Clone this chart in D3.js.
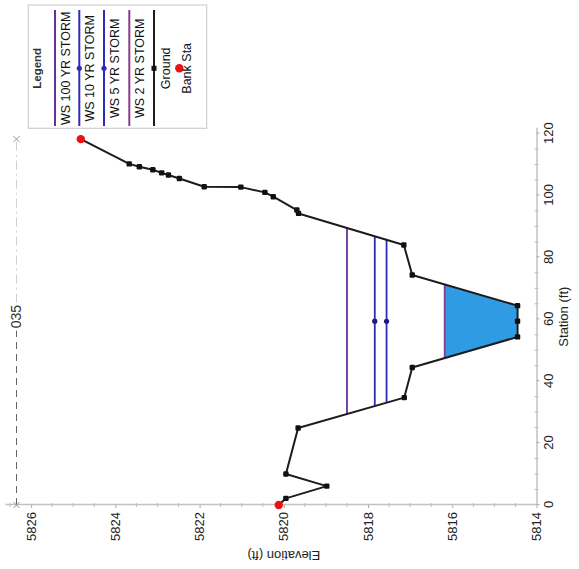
<!DOCTYPE html>
<html><head><meta charset="utf-8">
<script src="https://cdn.jsdelivr.net/npm/d3@7"></script>
<style>html,body{margin:0;padding:0;background:#fff;} svg{display:block;}</style>
</head><body><div id="chart"></div>
<script>
// ---------- data ----------
const groundStation = [0, 2.15, 6.1, 10.0, 24.9, 34.7, 44.4, 54.3, 59.4, 64.4, 74.3, 84.0, 94.2, 95.3, 99.6, 101.0, 102.7, 102.8, 105.5, 106.6, 107.3, 108.3, 109.3, 110.2, 118.2];
const groundElevation = [5820.12, 5819.95, 5818.98, 5819.95, 5819.66, 5817.14, 5816.95, 5814.45, 5814.45, 5814.45, 5816.95, 5817.15, 5819.65, 5819.69, 5820.25, 5820.45, 5821.02, 5821.89, 5822.48, 5822.74, 5822.90, 5823.11, 5823.43, 5823.67, 5824.82];
const bankStations = [0, 118.2];
const profileNames = ["WS 100 YR STORM", "WS 10 YR STORM", "WS 5 YR STORM", "WS 2 YR STORM"];
const profileElevations = [5818.50, 5817.84, 5817.56, 5816.18];
const profileHasMarker = [false, true, true, false];
const profileColors = ["#62309e", "#2c2cb8", "#2c2cb8", "#8c3a8c"];
const stationTicks = [0, 20, 40, 60, 80, 100, 120];
const elevationTicks = [5814, 5816, 5818, 5820, 5822, 5824, 5826];
const sectionName = "035";
const legendTitle = "Legend";
const groundLabel = "Ground";
const bankLabel = "Bank Sta";
const stationTitle = "Station (ft)";
const elevationTitle = "Elevation (ft)";

// ---------- setup ----------
const W = 579, H = 569;
const FONT = "'Liberation Sans', Arial, sans-serif";
const svg = d3.select("#chart").append("svg").attr("width", W).attr("height", H)
  .style("font-family", FONT);
// the chart is drawn in normal orientation then rotated 90deg counter-clockwise
const g = svg.append("g").attr("transform", `translate(0,${H}) rotate(-90)`);

const x = d3.scaleLinear().domain([0, 121.7]).range([64, 440.7]);
const y = d3.scaleLinear().domain([5814, 5826.62]).range([536.5, 5]);

const ground = groundStation.map((s, i) => ({s, e: groundElevation[i]}));

function wetted(level) {
  const iMin = d3.minIndex(ground, d => d.e);
  let i = iMin;
  while (i > 0 && ground[i - 1].e < level) i--;
  const a = ground[i - 1], b = ground[i];
  const sL = a.s + (level - a.e) / (b.e - a.e) * (b.s - a.s);
  let j = iMin;
  while (j < ground.length - 1 && ground[j + 1].e < level) j++;
  const c = ground[j], d = ground[j + 1];
  const sR = c.s + (level - c.e) / (d.e - c.e) * (d.s - c.s);
  return {sL, sR, inner: ground.slice(i, j + 1)};
}

// ---------- axes ----------
const axisColor = "#c2c2c2";
const xAxis = d3.axisBottom(x).tickValues(stationTicks).tickFormat(d3.format("d"))
  .tickSize(3).tickSizeOuter(0).tickPadding(4);
const gx = g.append("g").attr("transform", `translate(0,${y(5814)})`).call(xAxis);
gx.attr("font-family", FONT).attr("font-size", 13);
gx.select(".domain").attr("stroke", axisColor).attr("stroke-width", 1.5);
gx.selectAll(".tick line").attr("stroke", "#aaa");
gx.selectAll(".tick text").attr("fill", "#222");
d3.range(0, 121, 5).filter(v => v % 20 !== 0).forEach(v => {
  gx.append("line").attr("x1", x(v)).attr("x2", x(v)).attr("y1", -2).attr("y2", 2).attr("stroke", "#bbb");
});

const yAxis = d3.axisLeft(y).tickValues(elevationTicks).tickFormat(d3.format("d"))
  .tickSize(3).tickSizeOuter(0).tickPadding(4);
const gy = g.append("g").attr("transform", `translate(${x(0)},0)`).call(yAxis);
gy.attr("font-family", FONT).attr("font-size", 13);
gy.select(".domain").attr("stroke", axisColor).attr("stroke-width", 1.5);
gy.selectAll(".tick line").attr("stroke", "#aaa");
gy.selectAll(".tick text").attr("fill", "#222");
d3.range(5814, 5826.6, 0.5).filter(v => v % 2 !== 0).forEach(v => {
  gy.append("line").attr("y1", y(v)).attr("y2", y(v)).attr("x1", -2).attr("x2", 2).attr("stroke", "#bbb");
});

g.append("text").attr("x", (x.range()[0] + x.range()[1]) / 2).attr("y", 568)
  .attr("text-anchor", "middle").attr("font-size", 13).attr("fill", "#222").text(stationTitle);
g.append("text").attr("transform", `translate(18,${(y(5814) + y(5826)) / 2}) rotate(-90)`)
  .attr("text-anchor", "middle").attr("font-size", 13).attr("fill", "#222").text(elevationTitle);

// ---------- section title line ----------
const tY = 16.5;
const tMid = (x.range()[0] + x.range()[1]) / 2;
const tL = x(bankStations[0]), tR = x(bankStations[1]);
g.append("line").attr("x1", tL).attr("x2", tMid - 14).attr("y1", tY).attr("y2", tY)
  .attr("stroke", "#666").attr("stroke-dasharray", "7,5");
g.append("line").attr("x1", tMid + 14).attr("x2", tR).attr("y1", tY).attr("y2", tY)
  .attr("stroke", "#d0d0d0").attr("stroke-dasharray", "9,4,2,4");
g.append("text").attr("x", tMid).attr("y", tY).attr("dy", "0.35em").attr("text-anchor", "middle")
  .attr("font-size", 14).attr("fill", "#333").text(sectionName);
[tL, tR].forEach(px => {
  g.append("path").attr("d", `M${px - 3},${tY - 3}L${px + 3},${tY + 3}M${px - 3},${tY + 3}L${px + 3},${tY - 3}`)
    .attr("stroke", "#999").attr("stroke-width", 1);
});

// ---------- water fill (lowest profile) ----------
const low = wetted(profileElevations[3]);
const fillPts = [{s: low.sL, e: profileElevations[3]}, ...low.inner, {s: low.sR, e: profileElevations[3]}];
g.append("path").attr("d", d3.line().x(d => x(d.s)).y(d => y(d.e))(fillPts) + "Z")
  .attr("fill", "#2f9be2").attr("stroke", "none");

// ---------- water surface lines ----------
profileElevations.forEach((lev, k) => {
  const w = wetted(lev);
  g.append("line").attr("x1", x(w.sL)).attr("x2", x(w.sR)).attr("y1", y(lev)).attr("y2", y(lev))
    .attr("stroke", profileColors[k]).attr("stroke-width", 1.8);
});

// ---------- ground ----------
g.append("path").attr("d", d3.line().x(d => x(d.s)).y(d => y(d.e))(ground))
  .attr("fill", "none").attr("stroke", "#1c1c1c").attr("stroke-width", 2).attr("stroke-linejoin", "round");
g.selectAll("rect.gm").data(ground).join("rect").attr("class", "gm")
  .attr("x", d => x(d.s) - 2.7).attr("y", d => y(d.e) - 2.7).attr("width", 5.4).attr("height", 5.4)
  .attr("rx", 1.2).attr("fill", "#111");

// profile markers
profileElevations.forEach((lev, k) => {
  if (!profileHasMarker[k]) return;
  const w = wetted(lev);
  g.append("circle").attr("cx", x((w.sL + w.sR) / 2)).attr("cy", y(lev)).attr("r", 2.6).attr("fill", "#1e1e7a");
});

// bank stations
bankStations.forEach(bs => {
  const i = groundStation.indexOf(bs);
  g.append("circle").attr("cx", x(bs)).attr("cy", y(groundElevation[i])).attr("r", 4.2).attr("fill", "#ee1111");
});

// ---------- legend ----------
const lg = g.append("g");
const LX0 = 440.7, LX1 = 564, LY0 = 28.3, LY1 = 206.7, LC = 500.7;
lg.append("rect").attr("x", LX0).attr("y", LY0).attr("width", LX1 - LX0).attr("height", LY1 - LY0)
  .attr("fill", "#fff").attr("stroke", "#cfcfcf").attr("stroke-width", 1.2);
lg.append("text").attr("x", LC).attr("y", 40.5).attr("text-anchor", "middle").attr("font-size", 11.5)
  .attr("font-weight", "bold").attr("fill", "#333").text(legendTitle);
const rowY = [55, 79.3, 104, 129.3, 154, 179.3];
profileNames.forEach((name, k) => {
  lg.append("line").attr("x1", 443).attr("x2", 559).attr("y1", rowY[k]).attr("y2", rowY[k])
    .attr("stroke", profileColors[k]).attr("stroke-width", 2);
  if (profileHasMarker[k]) lg.append("circle").attr("cx", LC).attr("cy", rowY[k]).attr("r", 2.6).attr("fill", "#2c2cb8");
  lg.append("text").attr("x", LC).attr("y", rowY[k] + 15).attr("text-anchor", "middle").attr("font-size", 12.5)
    .attr("fill", "#111").text(name);
});
lg.append("line").attr("x1", 443).attr("x2", 559).attr("y1", rowY[4]).attr("y2", rowY[4])
  .attr("stroke", "#1c1c1c").attr("stroke-width", 2);
lg.append("rect").attr("x", LC - 2.5).attr("y", rowY[4] - 2.5).attr("width", 5).attr("height", 5).attr("fill", "#111");
lg.append("text").attr("x", LC).attr("y", rowY[4] + 15.5).attr("text-anchor", "middle").attr("font-size", 12.5)
  .attr("fill", "#111").text(groundLabel);
lg.append("circle").attr("cx", LC).attr("cy", rowY[5]).attr("r", 4.2).attr("fill", "#ee1111");
lg.append("text").attr("x", LC).attr("y", rowY[5] + 12).attr("text-anchor", "middle").attr("font-size", 12.5)
  .attr("fill", "#111").text(bankLabel);
</script></body></html>
